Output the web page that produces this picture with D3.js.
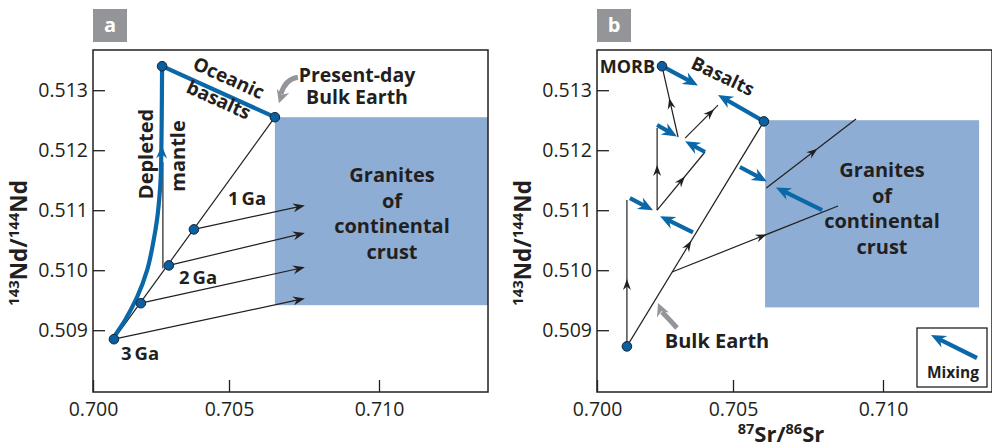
<!DOCTYPE html>
<html><head><meta charset="utf-8">
<script src="https://cdn.jsdelivr.net/npm/d3@7"></script>
<style>
body{margin:0;background:#fff}
text{font-family:"Open Sans","Noto Sans",sans-serif;fill:#231f20}
</style>
</head><body>
<svg id="c" width="992" height="448"></svg>
<script>
// ---------- data ----------
const xTicks = [0.700, 0.705, 0.710];
const yTicks = [0.509, 0.510, 0.511, 0.512, 0.513];

// panel a
const aMantleCurve = [[0.70074,0.50887],[0.70118,0.50917],[0.70162,0.50955],[0.70199,0.51000],[0.70221,0.51045],[0.70235,0.51083],[0.70246,0.51133],[0.70250,0.51167],[0.70254,0.51340]];
const aDepletedTop = [0.70254, 0.51340];
const aBulkEarth = [0.70653, 0.51255];
const aStart = [0.70077, 0.50885];
const aAgeX = [0.70077, 0.70176, 0.70279, 0.70371];
const aAgeY = [0.50885, 0.50945, 0.51008, 0.51068];
const aArrowEndX = [0.70753, 0.70753, 0.70753, 0.70753];
const aArrowEndY = [0.50953, 0.51005, 0.51062, 0.51108];
const aVertical = [[0.70257, 0.51003], [0.70257, 0.51180]];
const aGranite = {x0: 0.70653, x1: 0.71363, y0: 0.509417, y1: 0.51255};

// panel b
const bMorb = [0.70239, 0.51340];
const bBulkEarth = [0.70603, 0.51248];
const bStart = [0.70110, 0.50873];
// black evolution lines: [start, end, arrow fraction]
const bLines = [
  [[0.70110,0.50873],[0.70603,0.51248],0.47],
  [[0.70110,0.50873],[0.70110,0.51117],0.46],
  [[0.70276,0.50997],[0.70850,0.51107],0.57],
  [[0.70611,0.51137],[0.70910,0.51252],0.57],
  [[0.70221,0.51100],[0.70221,0.51237],0.55],
  [[0.70221,0.51100],[0.70397,0.51197],0.58],
  [[0.70298,0.51222],[0.70239,0.51340],0.55],
  [[0.70324,0.51220],[0.70445,0.51275],0.88]
];
// mixing arrows: [start, tip]
const bMixing = [
  [[0.70239,0.51340],[0.70371,0.51308]],
  [[0.70603,0.51248],[0.70445,0.51292]],
  [[0.70221,0.51242],[0.70294,0.51223]],
  [[0.70397,0.51197],[0.70324,0.51215]],
  [[0.70523,0.51172],[0.70613,0.51148]],
  [[0.70797,0.51100],[0.70643,0.51138]],
  [[0.70121,0.51120],[0.70206,0.51100]],
  [[0.70353,0.51063],[0.70232,0.51090]]
];
const bGranite = {x0: 0.70607, x1: 0.71320, y0: 0.50938, y1: 0.51250};

// ---------- drawing ----------
const svg = d3.select("#c");
const BLUE = "#0a68a8", DOT = "#0b5f9e", INK = "#231f20", GRAN = "#8dadd4", GREY = "#939598";

const y = d3.scaleLinear().domain([0.50797, 0.51367]).range([392, 50]);
const xA = d3.scaleLinear().domain([0.700, 0.705, 0.710, 0.71363]).range([93, 229, 379, 488]);
const xB = d3.scaleLinear().domain([0.700, 0.705, 0.710, 0.71363]).range([597, 733, 883, 992]);

function head(g, tip, from, L, W, color){
  const dx = tip[0]-from[0], dy = tip[1]-from[1], len = Math.hypot(dx,dy);
  const ux = dx/len, uy = dy/len, px = -uy, py = ux;
  const bx = tip[0]-ux*L, by = tip[1]-uy*L;
  const nx = tip[0]-ux*L*0.68, ny = tip[1]-uy*L*0.68;
  g.append("path")
   .attr("d", `M${tip[0]},${tip[1]}L${bx+px*W/2},${by+py*W/2}L${nx},${ny}L${bx-px*W/2},${by-py*W/2}Z`)
   .attr("fill", color);
}
function blackLine(g, p0, p1){
  g.append("line").attr("x1",p0[0]).attr("y1",p0[1]).attr("x2",p1[0]).attr("y2",p1[1])
   .attr("stroke",INK).attr("stroke-width",1.2);
}
function midArrow(g, p0, p1, f){
  const t = [p0[0]+(p1[0]-p0[0])*f, p0[1]+(p1[1]-p0[1])*f];
  head(g, t, p0, 11, 8, INK);
}
function blueArrow(g, p0, p1, L, W, sw){
  const dx=p1[0]-p0[0], dy=p1[1]-p0[1], len=Math.hypot(dx,dy);
  const e=[p1[0]-dx/len*L*0.6, p1[1]-dy/len*L*0.6];
  g.append("line").attr("x1",p0[0]).attr("y1",p0[1]).attr("x2",e[0]).attr("y2",e[1])
   .attr("stroke",BLUE).attr("stroke-width",sw);
  head(g, p1, p0, L, W, BLUE);
}
function dot(g, p){
  g.append("circle").attr("cx",p[0]).attr("cy",p[1]).attr("r",4.8)
   .attr("fill",DOT).attr("stroke","#10243a").attr("stroke-width",1);
}
function axes(g, x, left, label){
  g.append("g").attr("transform",`translate(${left},0)`)
   .call(d3.axisLeft(y).tickValues(yTicks).tickSize(-12).tickPadding(5).tickFormat(d3.format(".3f")))
   .call(s=>{s.select(".domain").remove(); s.selectAll("line").attr("stroke",INK).attr("stroke-width",1.3);
             s.selectAll("text").attr("font-size",19.5).attr("font-family","'Open Sans',sans-serif").attr("fill",INK);});
  g.append("g").attr("transform","translate(0,392)")
   .call(d3.axisBottom(x).tickValues(xTicks).tickSize(-12).tickPadding(10).tickFormat(d3.format(".3f")))
   .call(s=>{s.select(".domain").remove(); s.selectAll("line").attr("stroke",INK).attr("stroke-width",1.3);
             s.selectAll("text").attr("font-size",19.5).attr("font-family","'Open Sans',sans-serif").attr("fill",INK);});
  const r = x.range();
  g.append("rect").attr("x",r[0]).attr("y",50).attr("width",r[3]-r[0]).attr("height",342)
   .attr("fill","none").attr("stroke",INK).attr("stroke-width",1.5);
  // panel label
  g.append("rect").attr("x",r[0]).attr("y",9).attr("width",34).attr("height",33).attr("fill",GREY);
  g.append("text").attr("x",r[0]+17).attr("y",32).attr("text-anchor","middle").attr("font-size",20)
   .attr("font-weight",700).style("fill","#fff").text(label);
  // y label
  const yl = g.append("text").attr("transform",`translate(${r[0]-66},243) rotate(-90)`)
   .attr("text-anchor","middle").attr("font-weight",700).attr("font-size",22.5);
  yl.append("tspan").attr("font-size",15).attr("dy",-8).text("143");
  yl.append("tspan").attr("dy",8).text("Nd/");
  yl.append("tspan").attr("font-size",15).attr("dy",-8).text("144");
  yl.append("tspan").attr("dy",8).text("Nd");
}
function bold(g, x0, y0, lines, size, lh, anchor){
  const t = g.append("text").attr("font-weight",700).attr("font-size",size).attr("text-anchor",anchor||"middle");
  lines.forEach((l,i)=>t.append("tspan").attr("x",x0).attr("y",y0+i*lh).text(l));
  return t;
}

// ===== panel a =====
const ga = svg.append("g");
const A = p => [xA(p[0]), y(p[1])];
ga.append("rect").attr("x",xA(aGranite.x0)).attr("y",y(aGranite.y1))
  .attr("width",xA(aGranite.x1)-xA(aGranite.x0)).attr("height",y(aGranite.y0)-y(aGranite.y1)).attr("fill",GRAN);
axes(ga, xA, 93, "a");

blackLine(ga, A(aStart), A(aBulkEarth));
blackLine(ga, A(aVertical[0]), A(aVertical[1]));
aAgeX.forEach((vx,i)=>{
  const p0 = A([vx, aAgeY[i]]), p1 = A([aArrowEndX[i], aArrowEndY[i]]);
  const l = Math.hypot(p1[0]-p0[0],p1[1]-p0[1]);
  blackLine(ga, p0, [p1[0]-6*(p1[0]-p0[0])/l, p1[1]-6*(p1[1]-p0[1])/l]);
  head(ga, p1, p0, 12, 9, INK);
});
const curve = d3.line().x(d=>xA(d[0])).y(d=>y(d[1])).curve(d3.curveMonotoneY);
ga.append("path").attr("d",curve(aMantleCurve.slice().reverse())).attr("fill","none")
  .attr("stroke",BLUE).attr("stroke-width",4.2);
ga.append("line").attr("x1",A(aDepletedTop)[0]).attr("y1",A(aDepletedTop)[1])
  .attr("x2",A(aBulkEarth)[0]).attr("y2",A(aBulkEarth)[1]).attr("stroke",BLUE).attr("stroke-width",4.2);
// arrow on mantle line
head(ga, [xA(0.70253), y(0.51208)], [xA(0.70251), y(0.51150)], 13, 11, BLUE);
aAgeX.forEach((vx,i)=>dot(ga, A([vx, aAgeY[i]])));
dot(ga, A(aDepletedTop)); dot(ga, A(aBulkEarth));

// labels a
const ang = Math.atan2(y(aBulkEarth[1])-y(aDepletedTop[1]), xA(aBulkEarth[0])-xA(aDepletedTop[0]))*180/Math.PI;
ga.append("text").attr("transform",`translate(226,84) rotate(${ang})`).attr("text-anchor","middle")
  .attr("font-weight",700).attr("font-size",19).text("Oceanic");
ga.append("text").attr("transform",`translate(216,106) rotate(${ang})`).attr("text-anchor","middle")
  .attr("font-weight",700).attr("font-size",19).text("basalts");
ga.append("text").attr("transform",`translate(153,154) rotate(-90)`).attr("text-anchor","middle")
  .attr("font-weight",700).attr("font-size",20).text("Depleted");
ga.append("text").attr("transform",`translate(185,156) rotate(-90)`).attr("text-anchor","middle")
  .attr("font-weight",700).attr("font-size",20).text("mantle");
bold(ga, 357, 82, ["Present-day","Bulk Earth"], 19.5, 22);
bold(ga, 392, 182, ["Granites","of","continental","crust"], 20, 25.5);
bold(ga, 247, 205, ["1\u2009Ga"], 18.5, 0);
bold(ga, 198, 284, ["2\u2009Ga"], 18.5, 0);
bold(ga, 140, 360, ["3\u2009Ga"], 18.5, 0);
// grey pointer a
{
  const be = A(aBulkEarth);
  const t0=[be[0]+23,be[1]-40], c=[be[0]+10,be[1]-38], tip=[be[0]+4,be[1]-14];
  ga.append("path").attr("d",`M${t0[0]},${t0[1]}Q${c[0]},${c[1]} ${tip[0]+2},${tip[1]-9}`)
    .attr("fill","none").attr("stroke",GREY).attr("stroke-width",5);
  head(ga, tip, [tip[0]+4,tip[1]-12], 13, 13, GREY);
}

// ===== panel b =====
const gb = svg.append("g");
const B = p => [xB(p[0]), y(p[1])];
gb.append("rect").attr("x",xB(bGranite.x0)).attr("y",y(bGranite.y1))
  .attr("width",xB(bGranite.x1)-xB(bGranite.x0)).attr("height",y(bGranite.y0)-y(bGranite.y1)).attr("fill",GRAN);
axes(gb, xB, 597, "b");
bLines.forEach(([p0,p1,f])=>{ blackLine(gb, B(p0), B(p1)); midArrow(gb, B(p0), B(p1), f); });
bMixing.forEach(([p0,p1])=>blueArrow(gb, B(p0), B(p1), 15, 13, 4.2));
dot(gb, B(bMorb)); dot(gb, B(bBulkEarth)); dot(gb, B(bStart));

const angB = Math.atan2(y(bBulkEarth[1])-y(bMorb[1]), xB(bBulkEarth[0])-xB(bMorb[0]))*180/Math.PI;
gb.append("text").attr("transform",`translate(720,82) rotate(${angB-3})`).attr("text-anchor","middle")
  .attr("font-weight",700).attr("font-size",18.5).text("Basalts");
bold(gb, 655, 73, ["MORB"], 18, 0, "end");
bold(gb, 882, 177, ["Granites","of","continental","crust"], 20, 25.5);
bold(gb, 717, 348, ["Bulk Earth"], 20, 0);
{
  const t0=[677,328], c=[668,318], tip=[658,303];
  gb.append("path").attr("d",`M${t0[0]},${t0[1]}Q${c[0]},${c[1]} ${tip[0]+4},${tip[1]+9}`)
    .attr("fill","none").attr("stroke",GREY).attr("stroke-width",5);
  head(gb, tip, [tip[0]+5,tip[1]+12], 13, 13, GREY);
}
// legend
gb.append("rect").attr("x",917).attr("y",328).attr("width",70).attr("height",59)
  .attr("fill","#fff").attr("stroke",INK).attr("stroke-width",1.3);
blueArrow(gb, [977,358], [931,335], 15, 13, 4.2);
bold(gb, 953, 378, ["Mixing"], 15.5, 0);
// x label
const xl = gb.append("text").attr("x",781).attr("y",442).attr("text-anchor","middle")
  .attr("font-weight",700).attr("font-size",22);
xl.append("tspan").attr("font-size",14.5).attr("dy",-8).text("87");
xl.append("tspan").attr("dy",8).text("Sr/");
xl.append("tspan").attr("font-size",14.5).attr("dy",-8).text("86");
xl.append("tspan").attr("dy",8).text("Sr");
</script>
</body></html>
